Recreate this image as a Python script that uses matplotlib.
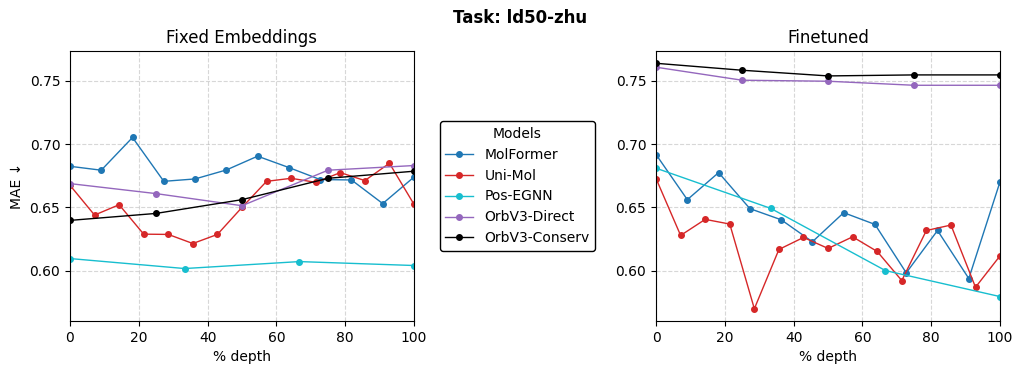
import matplotlib
matplotlib.use("Agg")
import matplotlib.pyplot as plt
import numpy as np

# x positions (% depth)
x_molformer = np.linspace(0, 100, 12)
x_unimol = np.linspace(0, 100, 15)
x_posegnn = np.linspace(0, 100, 4)
x_orb = np.linspace(0, 100, 5)

fixed_molformer = [0.6825, 0.6794, 0.7053, 0.6706, 0.6725, 0.6796, 0.6905, 0.6815, 0.672, 0.6717, 0.653, 0.674]
fixed_unimol = [0.6675, 0.6439, 0.6521, 0.6288, 0.6286, 0.6214, 0.6286, 0.650, 0.6706, 0.673, 0.6698, 0.6775, 0.6712, 0.6849, 0.6524]
fixed_posegnn = [0.6095, 0.6016, 0.6071, 0.6040]
fixed_orb_direct = [0.6688, 0.6609, 0.6513, 0.6794, 0.6831]
fixed_orb_conserv = [0.6397, 0.6452, 0.6561, 0.673, 0.6786]

ft_molformer = [0.6918, 0.6561, 0.6775, 0.649, 0.6402, 0.6228, 0.6458, 0.6365, 0.5982, 0.6317, 0.5937, 0.6704]
ft_unimol = [0.6728, 0.6278, 0.6405, 0.6368, 0.5698, 0.6167, 0.6262, 0.6175, 0.6267, 0.6151, 0.5921, 0.6317, 0.6360, 0.5868, 0.6117]
ft_posegnn = [0.681, 0.6492, 0.600, 0.5794]
ft_orb_direct = [0.7609, 0.7506, 0.7498, 0.7466, 0.7466]
ft_orb_conserv = [0.764, 0.7585, 0.754, 0.7548, 0.7548]

models = ["MolFormer", "Uni-Mol", "Pos-EGNN", "OrbV3-Direct", "OrbV3-Conserv"]
colors = ["#1f77b4", "#d62728", "#17becf", "#9467bd", "black"]
xs = [x_molformer, x_unimol, x_posegnn, x_orb, x_orb]

fig = plt.figure(figsize=(10.23, 3.74), dpi=100)
ax1 = fig.add_axes([0.0684, 0.1417, 0.3363, 0.7219])
ax2 = fig.add_axes([0.6413, 0.1417, 0.3363, 0.7219], sharey=ax1)

panels = [
    (ax1, "Fixed Embeddings", [fixed_molformer, fixed_unimol, fixed_posegnn, fixed_orb_direct, fixed_orb_conserv]),
    (ax2, "Finetuned", [ft_molformer, ft_unimol, ft_posegnn, ft_orb_direct, ft_orb_conserv]),
]

for ax, title, series in panels:
    for name, c, x, y in zip(models, colors, xs, series):
        ax.plot(x, y, marker="o", markersize=4, linewidth=1, color=c, label=name)
    ax.set_title(title, fontsize=12)
    ax.set_xlabel("% depth")
    ax.set_xlim(0, 100)
    ax.grid(True, linestyle="--", alpha=0.5)
    ax.set_yticks([0.60, 0.65, 0.70, 0.75])
    ax.tick_params(labelleft=True)

ax1.set_ylabel("MAE ↓")

handles, labels = ax1.get_legend_handles_labels()
leg = fig.legend(handles, labels, title="Models", loc="center",
                 bbox_to_anchor=(0.5059, 0.5027), fontsize=10, title_fontsize=10)
leg.get_frame().set_edgecolor("black")
leg.get_frame().set_alpha(1)

fig.suptitle("Task: ld50-zhu", fontweight="bold", fontsize=12, x=0.508, y=0.975)

fig.savefig("out.png", dpi=100)
